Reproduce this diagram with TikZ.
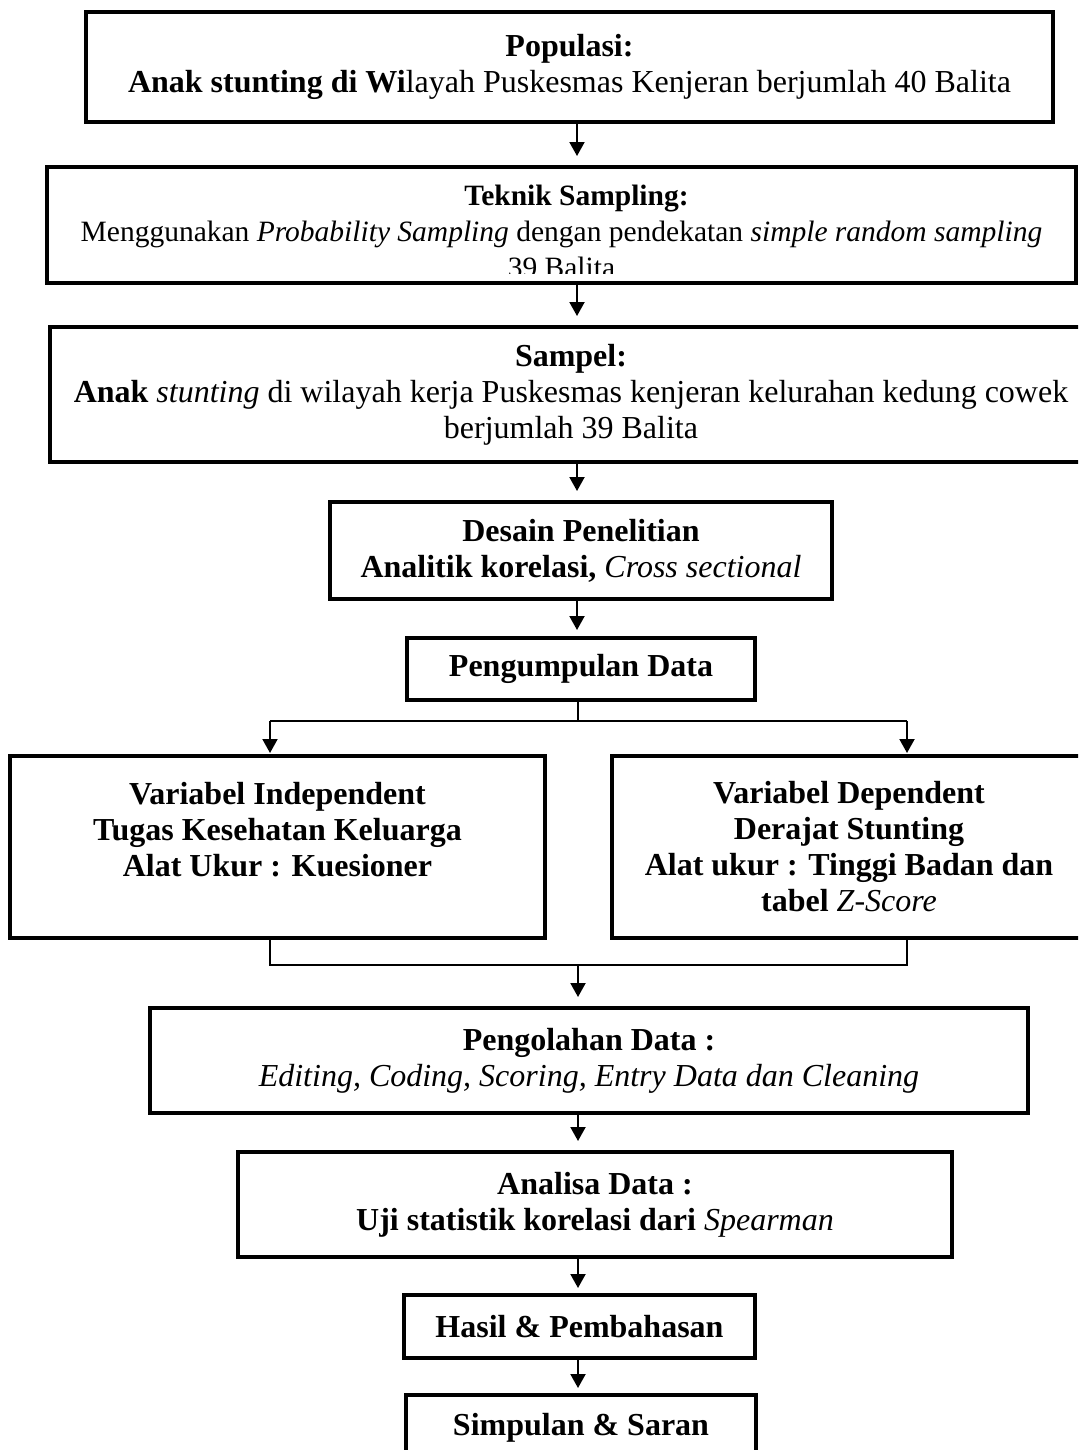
\documentclass[tikz,border=0pt]{standalone}
\usepackage{fontspec}
\setmainfont{Liberation Serif}
\usetikzlibrary{arrows.meta}
\tikzset{
  box/.style={draw, line width=2pt, align=center, inner sep=0pt,
    font=\fontsize{16pt}{18pt}\selectfont},
  txt/.style={align=center, inner sep=0pt, font=\fontsize{14.75pt}{18pt}\selectfont},
  conn/.style={line width=1pt},
  arr/.style={conn, -{Triangle[length=7pt,width=7.5pt]}, shorten >=4.5pt},
}
\begin{document}
\begin{tikzpicture}[x=0.5pt,y=-0.5pt]
\useasboundingbox (0,0) rectangle (1078,1450);
\clip (0,0) rectangle (1078,1450);
\coordinate (axis) at (577,0);

\node[box, minimum width=483.5pt, minimum height=55pt] (b1) at (569.5,67)
  {\textbf{Populasi:}\\\textbf{Anak stunting di Wi}layah Puskesmas Kenjeran berjumlah 40 Balita};

\node[box, minimum width=514.5pt, minimum height=58pt] (b2) at (561.5,225) {};
\begin{scope}
  \clip (b2.north west) rectangle ([yshift=6pt]b2.south east);
  \node[txt] (t2) at (561.5,231)
    {\hspace*{15pt}\textbf{Teknik Sampling:}\\Menggunakan \textit{Probability Sampling} dengan pendekatan \textit{simple random sampling}\\39 Balita};
\end{scope}

\node[box, minimum width=521pt, minimum height=67.5pt] (b3) at (571,394.5)
  {\textbf{Sampel:}\\\textbf{Anak} \textit{stunting} di wilayah kerja Puskesmas kenjeran kelurahan kedung cowek\\berjumlah 39 Balita};

\node[box, minimum width=251pt, minimum height=48.5pt] (b4) at (581,550.5)
  {\textbf{Desain Penelitian}\\\textbf{Analitik korelasi,} \textit{Cross sectional}};

\node[box, minimum width=174pt, minimum height=31pt] (b5) at (581,669)
  {\textbf{Pengumpulan Data}};

\node[box, minimum width=267.5pt, minimum height=91pt] (b6l) at (277.5,847)
  {\textbf{Variabel Independent}\\\textbf{Tugas Kesehatan Keluarga}\\\textbf{Alat Ukur : Kuesioner}\\\mbox{}};

\node[box, minimum width=237pt, minimum height=91pt] (b6r) at (849,847)
  {\textbf{Variabel Dependent}\\\textbf{Derajat Stunting}\\\textbf{Alat ukur : Tinggi Badan dan}\\\textbf{tabel} \textit{Z-Score}};

\node[box, minimum width=439pt, minimum height=52.5pt] (b7) at (589,1060.5)
  {\textbf{Pengolahan Data :}\\\textit{Editing, Coding, Scoring, Entry Data dan Cleaning}};

\node[box, minimum width=357pt, minimum height=52.5pt] (b8) at (595,1204.5)
  {\textbf{Analisa Data :}\\\textbf{Uji statistik korelasi dari} \textit{Spearman}};

\node[box, minimum width=175.5pt, minimum height=31.5pt] (b9) at (579.5,1326.5)
  {\textbf{Hasil \& Pembahasan}};

\node[box, minimum width=175pt, minimum height=32.5pt] (b10) at (581,1427.5)
  {\textbf{Simpulan \& Saran}};

% connectors
\draw[arr] (b1.south -| axis) -- (b2.north -| axis);
\draw[arr] (b2.south -| axis) -- (b3.north -| axis);
\draw[arr] (b3.south -| axis) -- (b4.north -| axis);
\draw[arr, shorten >=3pt] (b4.south -| axis) -- (b5.north -| axis);

\coordinate (fork) at (578,721);
\coordinate (fl) at (270,721);
\coordinate (fr) at (907,721);
\draw[conn] (b5.south -| fork) -- (fork);
\draw[conn] (fl) -- (fr);
\draw[arr, shorten >=0.5pt] (fl) -- (fl |- b6l.north);
\draw[arr, shorten >=0.5pt] (fr) -- (fr |- b6r.north);

\coordinate (jl) at (270,965);
\coordinate (jr) at (907,965);
\coordinate (join) at (578,965);
\draw[conn] (jl |- b6l.south) -- (jl) -- (jr) -- (jr |- b6r.south);
\draw[arr] (join) -- (b7.north -| join);

\draw[arr, shorten <=-2pt] (b7.south -| join) -- (b8.north -| join);
\draw[arr, shorten >=2.5pt] (b8.south -| join) -- (b9.north -| join);
\draw[arr, shorten >=2.5pt] (b9.south -| join) -- (b10.north -| join);
\end{tikzpicture}
\end{document}
